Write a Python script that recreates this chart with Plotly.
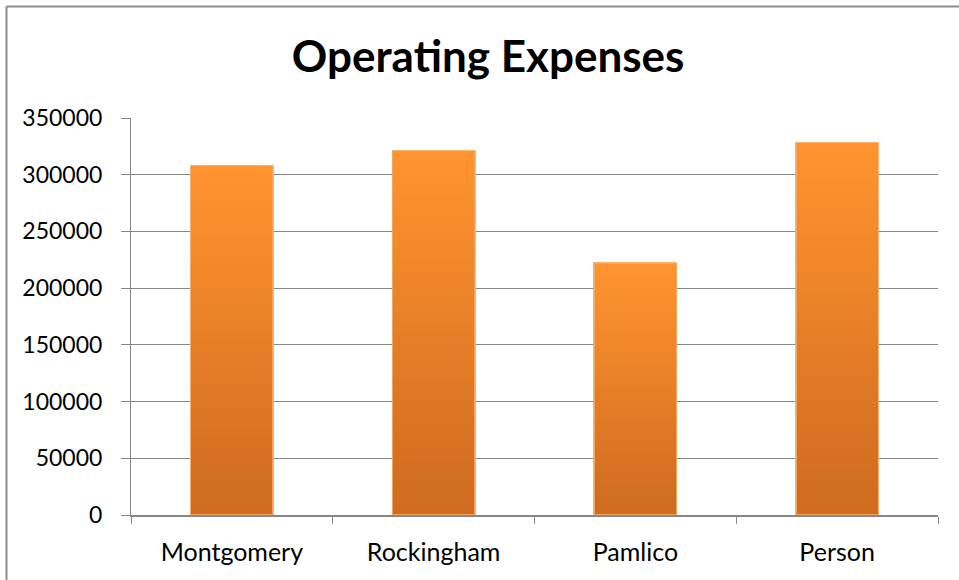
import plotly.graph_objects as go

categories = ["Montgomery", "Rockingham", "Pamlico", "Person"]
expenses = [308000, 321300, 222000, 328300]
y_ticks = [0, 50000, 100000, 150000, 200000, 250000, 300000, 350000]

title_text = "Operating Expenses"

# gradient colours (bottom -> top)
bottom_rgb = (207, 106, 31)
top_rgb = (255, 148, 48)
N = 40

fig = go.Figure()
for k in range(N):
    t = (k + 0.5) / N
    c = tuple(int(round(b + (tp - b) * t)) for b, tp in zip(bottom_rgb, top_rgb))
    fig.add_trace(go.Bar(
        x=categories,
        y=[v / N for v in expenses],
        marker=dict(color="rgb(%d,%d,%d)" % c, line=dict(width=0)),
        showlegend=False,
        hoverinfo="skip",
    ))

# outline overlay
fig.add_trace(go.Bar(
    x=categories, y=expenses, yaxis="y2",
    marker=dict(color="rgba(0,0,0,0)", line=dict(color="rgba(245,170,100,0.9)", width=1.5)),
    showlegend=False, hoverinfo="x+y",
))

W, H = 959, 580
L, R, T, B = 131, 21, 118, 65
pw, ph = W - L - R, H - T - B

def px_x(p):
    return (p - L) / pw

def px_y(p):
    return (H - B - p) / ph

fig.update_layout(
    width=W, height=H,
    margin=dict(l=L, r=R, t=T, b=B),
    paper_bgcolor="white", plot_bgcolor="white",
    barmode="stack", bargap=0.59,
    font=dict(family="Lato, Open Sans, sans-serif", color="black", size=22),
    title=dict(text="<b>" + title_text + "</b>", x=0.509, xanchor="center",
               y=1 - 57 / H, yanchor="middle", yref="container",
               font=dict(size=44, family="Lato, Open Sans, sans-serif", color="black")),
    xaxis=dict(showgrid=False, showline=True, linecolor="#868686", linewidth=1.5,
               ticks="outside", tickson="boundaries", ticklen=7, tickcolor="#868686",
               tickwidth=1, ticklabelstandoff=14,
               tickfont=dict(size=25)),
    yaxis=dict(range=[0, 350000], tickvals=y_ticks, ticktext=[str(v) for v in y_ticks],
               showgrid=True, gridcolor="#868686", gridwidth=1,
               showline=True, linecolor="#868686", linewidth=1,
               ticks="outside", ticklen=9, tickcolor="#868686",
               ticklabelstandoff=14, zeroline=False,
               tickfont=dict(size=23)),
    yaxis2=dict(range=[0, 350000], overlaying="y", visible=False),
    shapes=[
        dict(type="line", xref="paper", yref="paper", x0=px_x(6.5), x1=px_x(W + 5),
             y0=px_y(6.5), y1=px_y(6.5), line=dict(color="#8c8c8c", width=2)),
        dict(type="line", xref="paper", yref="paper", x0=px_x(6.5), x1=px_x(6.5),
             y0=px_y(6.5), y1=px_y(H + 5), line=dict(color="#8c8c8c", width=2)),
    ],
)

fig.write_html("out.html", config={"displayModeBar": False},
               post_script="document.body.style.margin='0px';")
